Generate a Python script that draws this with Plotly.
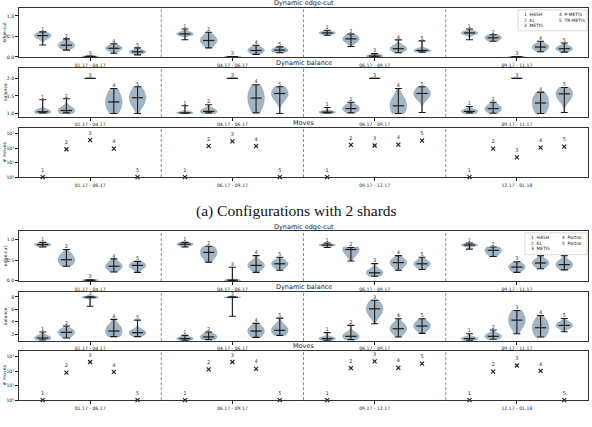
import plotly.graph_objects as go

W, H = 592, 427

PERIODS_TOP = ["01.17 - 04.17", "04.17 - 06.17", "06.17 - 09.17", "09.17 - 11.17"]
PERIODS_MOVES = ["01.17 - 06.17", "06.17 - 09.17", "09.17 - 12.17", "12.17 - 01.18"]
METHOD_IDS = ["1", "2", "3", "4", "5"]
LEGEND_A = ["1  HASH", "2  KL", "3  METIS", "4  P-METIS", "5  TR-METIS"]
LEGEND_B = ["1  HASH", "2  KL", "3  METIS", "4  Partial", "5  Partial"]

# ---- (a) 2 shards: edge-cut (period-major, methods 1..5) ----
EC_A_MIN = [0.29, 0.165, 0.0, 0.09, 0.05, 0.42, 0.22, 0.0, 0.06, 0.10,
            0.53, 0.255, 0.0, 0.10, 0.117, 0.42, 0.38, 0.0, 0.125, 0.117]
EC_A_MEAN = [0.52, 0.285, 0.01, 0.21, 0.125, 0.56, 0.40, 0.005, 0.157, 0.165,
             0.585, 0.44, 0.02, 0.20, 0.157, 0.585, 0.465, 0.005, 0.24, 0.20]
EC_A_MAX = [0.61, 0.44, 0.02, 0.32, 0.22, 0.68, 0.60, 0.01, 0.285, 0.245,
            0.65, 0.56, 0.08, 0.415, 0.39, 0.68, 0.54, 0.01, 0.38, 0.34]
EC_A_LO = [0.46, 0.22, 0.0, 0.16, 0.09, 0.53, 0.31, 0.0, 0.10, 0.12,
           0.56, 0.37, 0.0, 0.14, 0.12, 0.55, 0.41, 0.0, 0.17, 0.15]
EC_A_HI = [0.57, 0.35, 0.02, 0.26, 0.16, 0.60, 0.50, 0.01, 0.22, 0.21,
           0.61, 0.51, 0.05, 0.26, 0.19, 0.62, 0.52, 0.01, 0.30, 0.25]

# ---- (a) balance ----
BAL_A_MIN = [1.02, 1.02, 2.0, 1.0, 1.0, 1.01, 1.02, 2.0, 1.02, 1.0,
             1.02, 1.02, 2.0, 1.0, 1.03, 1.02, 1.01, 2.0, 1.0, 1.03]
BAL_A_MEAN = [1.05, 1.085, 2.0, 1.33, 1.45, 1.02, 1.06, 2.0, 1.44, 1.57,
              1.04, 1.14, 2.0, 1.22, 1.57, 1.06, 1.14, 2.0, 1.30, 1.56]
BAL_A_MAX = [1.39, 1.42, 2.0, 1.71, 1.76, 1.22, 1.25, 2.0, 1.82, 1.76,
             1.17, 1.32, 2.0, 1.71, 1.76, 1.20, 1.32, 2.0, 1.61, 1.74]
BAL_A_LO = [1.0, 1.0, 2.0, 1.12, 1.26, 1.0, 1.0, 2.0, 1.18, 1.42,
            1.0, 1.05, 2.0, 1.02, 1.45, 1.0, 1.05, 2.0, 1.08, 1.40]
BAL_A_HI = [1.10, 1.16, 2.0, 1.56, 1.64, 1.05, 1.12, 2.0, 1.68, 1.70,
            1.06, 1.22, 2.0, 1.42, 1.70, 1.10, 1.22, 2.0, 1.50, 1.68]

# ---- (a) moves ----
MOVES_A = [1, 85, 370, 95, 1, 1, 138, 300, 138, 1,
           1, 170, 155, 178, 340, 1, 95, 23, 112, 131]

# ---- (b) 4 shards: edge-cut ----
EC_B_MIN = [0.82, 0.35, 0.0, 0.21, 0.20, 0.82, 0.45, 0.0, 0.20, 0.25,
            0.81, 0.48, 0.105, 0.25, 0.27, 0.77, 0.59, 0.20, 0.29, 0.26]
EC_B_MEAN = [0.88, 0.51, 0.01, 0.35, 0.37, 0.89, 0.69, 0.01, 0.37, 0.41,
             0.87, 0.76, 0.19, 0.44, 0.41, 0.87, 0.74, 0.33, 0.43, 0.39]
EC_B_MAX = [0.935, 0.76, 0.02, 0.53, 0.47, 0.935, 0.84, 0.325, 0.61, 0.57,
            0.92, 0.81, 0.415, 0.61, 0.57, 0.92, 0.82, 0.46, 0.61, 0.61]
EC_B_LO = [0.85, 0.40, 0.0, 0.27, 0.30, 0.86, 0.56, 0.0, 0.29, 0.33,
           0.85, 0.63, 0.12, 0.35, 0.33, 0.85, 0.64, 0.25, 0.35, 0.31]
EC_B_HI = [0.91, 0.62, 0.02, 0.43, 0.43, 0.92, 0.80, 0.02, 0.45, 0.47,
           0.89, 0.82, 0.26, 0.52, 0.47, 0.90, 0.80, 0.40, 0.50, 0.47]

# ---- (b) balance ----
BAL_B_MIN = [1.10, 1.42, 6.5, 1.63, 1.63, 1.04, 1.15, 4.9, 1.52, 1.84,
             1.04, 1.15, 3.7, 1.58, 2.16, 1.04, 1.20, 2.1, 1.58, 2.42]
BAL_B_MEAN = [1.42, 2.32, 7.95, 2.53, 2.27, 1.31, 1.58, 7.95, 2.53, 2.64,
              1.31, 1.68, 6.09, 2.90, 3.33, 1.31, 1.68, 4.28, 3.06, 3.43]
BAL_B_MAX = [2.37, 3.33, 8.1, 4.4, 4.28, 1.84, 2.37, 8.0, 3.75, 4.6,
             2.27, 3.43, 7.47, 4.5, 4.5, 2.10, 2.70, 5.82, 5.03, 4.55]
BAL_B_LO = [1.10, 1.75, 7.8, 1.75, 1.85, 1.05, 1.20, 7.9, 1.75, 2.00,
            1.05, 1.20, 5.2, 2.25, 2.80, 1.05, 1.30, 3.3, 2.00, 3.10]
BAL_B_HI = [1.70, 2.70, 8.05, 3.30, 2.65, 1.50, 2.00, 8.0, 3.10, 3.30,
            1.50, 2.10, 7.0, 3.60, 4.00, 1.50, 2.00, 5.4, 4.10, 3.90]

# ---- (b) moves ----
MOVES_B = [1, 80, 436, 90, 1, 1, 135, 436, 148, 1,
           1, 166, 490, 174, 340, 1, 94, 250, 105, 1]

POS = [6 * g + k for g in range(4) for k in range(1, 6)]
LABELS = METHOD_IDS * 4
GROUP_TICKS = [3, 9, 15, 21]
SEPARATORS = [6, 12, 18]

X0, X1 = 19, 588
FONT = "DejaVu Sans"
DARK = "#1a1a1a"
VIOLIN_FILL = "rgba(105,135,162,0.62)"
VIOLIN_LINE = "rgba(95,125,155,0.8)"


def py(y):
    return 1 - y / H


panels = [
    dict(kind="v", mn=EC_A_MIN, me=EC_A_MEAN, mx=EC_A_MAX, lo=EC_A_LO, hi=EC_A_HI,
         top=8, bot=57.7, rng=[-0.01, 1.195], tv=[0, 0.5, 1.0], tt=["0.0", "0.5", "1.0"],
         title="Dynamic edge-cut", ylab="edge-cut", xt=PERIODS_TOP),
    dict(kind="v", mn=BAL_A_MIN, me=BAL_A_MEAN, mx=BAL_A_MAX, lo=BAL_A_LO, hi=BAL_A_HI,
         top=68.3, bot=117.7, rng=[0.905, 2.30], tv=[1.0, 1.5, 2.0], tt=["1.0", "1.5", "2.0"],
         title="Dynamic balance", ylab="balance", xt=PERIODS_TOP),
    dict(kind="m", vals=MOVES_A, top=129, bot=178.3, rng=[0, 3.4],
         tv=[1, 10, 100, 1000], tt=["10⁰", "10¹", "10²", "10³"],
         title="Moves", ylab="# moves", xt=PERIODS_MOVES),
    dict(kind="v", mn=EC_B_MIN, me=EC_B_MEAN, mx=EC_B_MAX, lo=EC_B_LO, hi=EC_B_HI,
         top=233, bot=283, rng=[-0.012, 1.205], tv=[0, 0.5, 1.0], tt=["0.0", "0.5", "1.0"],
         title="Dynamic edge-cut", ylab="edge-cut", xt=PERIODS_TOP),
    dict(kind="v", mn=BAL_B_MIN, me=BAL_B_MEAN, mx=BAL_B_MAX, lo=BAL_B_LO, hi=BAL_B_HI,
         top=294, bot=343.3, rng=[0.95, 8.8], tv=[2, 4, 6, 8], tt=["2", "4", "6", "8"],
         title="Dynamic balance", ylab="balance", xt=PERIODS_TOP),
    dict(kind="m", vals=MOVES_B, top=353.5, bot=403, rng=[0, 3.4],
         tv=[1, 10, 100, 1000], tt=["10⁰", "10¹", "10²", "10³"],
         title="Moves", ylab="# moves", xt=PERIODS_MOVES),
]

fig = go.Figure()
layout = dict(
    width=W, height=H, margin=dict(l=0, r=0, t=0, b=0),
    paper_bgcolor="white", plot_bgcolor="white", showlegend=False,
    font=dict(family=FONT, size=5, color=DARK), violinmode="overlay",
)
annotations = []
shapes = []

for i, p in enumerate(panels, start=1):
    xa = "x" if i == 1 else f"x{i}"
    ya = "y" if i == 1 else f"y{i}"
    xkey = "xaxis" if i == 1 else f"xaxis{i}"
    ykey = "yaxis" if i == 1 else f"yaxis{i}"

    if p["kind"] == "v":
        for j in range(20):
            lo, me, hi = p["lo"][j], p["me"][j], p["hi"][j]
            if hi <= lo:
                continue
            fig.add_trace(go.Violin(
                x=[POS[j]] * 3, y=[lo, me, hi], xaxis=xa, yaxis=ya, width=0.7,
                bandwidth=(hi - lo) / 2.2, spanmode="manual",
                span=[min(p["mn"][j], lo), max(p["mx"][j], hi)],
                points=False, fillcolor=VIOLIN_FILL, line=dict(color=VIOLIN_LINE, width=0.4),
                scalemode="width", hoverinfo="skip", box=dict(visible=False),
                meanline=dict(visible=False), showlegend=False))
        up = [a - b for a, b in zip(p["mx"], p["me"])]
        dn = [b - a for a, b in zip(p["mn"], p["me"])]
        fig.add_trace(go.Scatter(
            x=POS, y=p["me"], xaxis=xa, yaxis=ya, mode="markers",
            marker=dict(symbol="line-ew", size=8, line=dict(color=DARK, width=1.2)),
            error_y=dict(type="data", symmetric=False, array=up, arrayminus=dn,
                         color=DARK, thickness=1.1, width=3.5),
            cliponaxis=False, hoverinfo="skip"))
        fig.add_trace(go.Scatter(
            x=POS, y=p["mx"], xaxis=xa, yaxis=ya, mode="text", text=LABELS,
            textposition="top center", textfont=dict(size=5, color="#333"),
            cliponaxis=False, hoverinfo="skip"))
        ytype = "linear"
    else:
        fig.add_trace(go.Scatter(
            x=POS, y=p["vals"], xaxis=xa, yaxis=ya, mode="markers",
            marker=dict(symbol="x-thin", size=4, line=dict(color=DARK, width=1.1)),
            cliponaxis=False, hoverinfo="skip"))
        fig.add_trace(go.Scatter(
            x=POS, y=p["vals"], xaxis=xa, yaxis=ya, mode="markers+text",
            text=LABELS, textposition="top center", textfont=dict(size=5, color="#333"),
            marker=dict(size=5, opacity=0), cliponaxis=False, hoverinfo="skip"))
        ytype = "log"

    layout[xkey] = dict(
        domain=[X0 / W, X1 / W], anchor=ya, range=[0, 24],
        tickvals=GROUP_TICKS, ticktext=p["xt"], ticks="outside", ticklen=3,
        tickwidth=0.8, tickcolor=DARK, tickfont=dict(size=4.6, color="#222"),
        showline=True, linecolor="#333", linewidth=1, mirror=True,
        showgrid=False, zeroline=False, fixedrange=True)
    layout[ykey] = dict(
        domain=[py(p["bot"]), py(p["top"])], anchor=xa, type=ytype, range=p["rng"],
        tickvals=p["tv"], ticktext=p["tt"], ticks="outside", ticklen=3,
        tickwidth=0.8, tickcolor=DARK, tickfont=dict(size=4.6, color="#222"),
        showline=True, linecolor="#333", linewidth=1, mirror=True,
        showgrid=False, zeroline=False, fixedrange=True)

    for s in SEPARATORS:
        shapes.append(dict(type="line", xref=xa, yref=f"{ya} domain", x0=s, x1=s, y0=0, y1=1,
                           line=dict(color="#4a8cc4", width=0.9, dash="3px,2px")))

    annotations.append(dict(text=p["title"], xref="paper", yref="paper",
                            x=(X0 + X1) / 2 / W, y=py(p["top"] - 4.8), xanchor="center",
                            yanchor="middle", showarrow=False, font=dict(size=6.5, color=DARK)))
    annotations.append(dict(text=p["ylab"], xref="paper", yref="paper", x=5 / W,
                            y=py((p["top"] + p["bot"]) / 2), textangle=-90, xanchor="center",
                            yanchor="middle", showarrow=False, font=dict(size=4.6, color="#222")))

# legends: two text columns inside a framed box
for leg, (lx0, lx1, ly0, ly1, c1, c2) in (
        (LEGEND_A, (518, 587, 10, 31, 523, 558)),
        (LEGEND_B, (525, 587, 234.5, 256.5, 530, 561))):
    shapes.append(dict(type="rect", xref="paper", yref="paper", x0=lx0 / W, x1=lx1 / W,
                       y0=py(ly1), y1=py(ly0), line=dict(color="#d0d0d0", width=0.8),
                       fillcolor="rgba(255,255,255,0.85)", layer="above"))
    for col, cx in ((leg[:3], c1), (leg[3:], c2)):
        annotations.append(dict(text="<br>".join(col), xref="paper", yref="paper",
                                x=cx / W, y=py(ly0 + 1.2), xanchor="left", yanchor="top",
                                align="left", showarrow=False, borderpad=0,
                                font=dict(size=4.4, color=DARK)))

annotations.append(dict(text="(a) Configurations with 2 shards", xref="paper", yref="paper",
                        x=296 / W, y=py(212), xanchor="center", yanchor="middle",
                        showarrow=False,
                        font=dict(family="Liberation Serif", size=15.5, color="#111")))

layout["annotations"] = annotations
layout["shapes"] = shapes
fig.update_layout(**layout)
fig.write_html("out.html")
